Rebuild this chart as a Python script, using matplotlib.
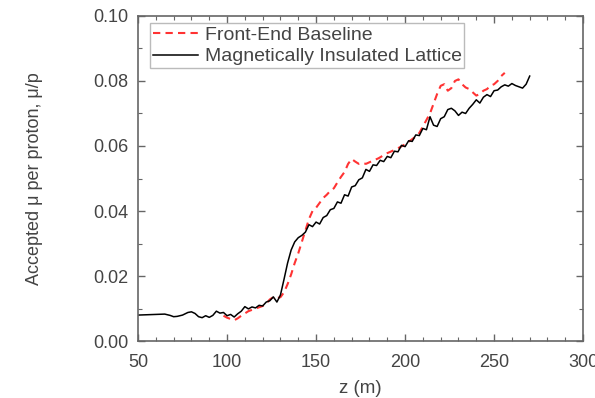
import matplotlib.pyplot as plt
from matplotlib.ticker import MultipleLocator

plt.rcParams["font.family"] = ["Liberation Sans", "DejaVu Sans"]

# magnetically insulated lattice (solid black)
mil_z = [50, 55, 60, 65, 68, 70, 72, 75, 78, 80, 82, 84, 86, 88, 90, 92, 94, 96, 98,
         100, 102, 104, 106, 108, 110, 112, 114, 116, 118, 120, 122, 124, 126, 128,
         130, 132, 134, 136, 138, 140, 142, 144, 146, 148, 150, 152, 154, 156, 158,
         160, 162, 164, 166, 168, 170, 172, 174, 176, 178, 180, 182, 184, 186, 188,
         190, 192, 194, 196, 198, 200, 202, 204, 206, 208, 210, 212, 214, 216, 218,
         220, 222, 224, 226, 228, 230, 232, 234, 236, 238, 240, 242, 244, 246, 248,
         250, 252, 254, 256, 258, 260, 262, 264, 266, 268, 270]
mil_mu = [0.0080, 0.0081, 0.0082, 0.0083, 0.0079, 0.0075, 0.0076, 0.0080, 0.0088, 0.0090,
          0.0085, 0.0075, 0.0072, 0.0078, 0.0073, 0.0079, 0.0092, 0.0086, 0.0088,
          0.0078, 0.0082, 0.0074, 0.0084, 0.0092, 0.0106, 0.0099, 0.0105, 0.0102, 0.0110,
          0.0108, 0.0120, 0.0124, 0.0136, 0.0120, 0.0142, 0.0190, 0.0240, 0.0280, 0.0305,
          0.0318, 0.0325, 0.0335, 0.0358, 0.0352, 0.0366, 0.0360, 0.0380, 0.0386, 0.0404,
          0.0408, 0.0428, 0.0424, 0.0450, 0.0446, 0.0474, 0.0478, 0.0496, 0.0502, 0.0528,
          0.0522, 0.0542, 0.0540, 0.0556, 0.0552, 0.0568, 0.0564, 0.0584, 0.0582, 0.0602,
          0.0598, 0.0616, 0.0614, 0.0634, 0.0632, 0.0654, 0.0650, 0.0690, 0.0664, 0.0660,
          0.0684, 0.0690, 0.0712, 0.0716, 0.0708, 0.0694, 0.0704, 0.0700, 0.0716, 0.0728,
          0.0742, 0.0732, 0.0750, 0.0758, 0.0752, 0.0770, 0.0772, 0.0782, 0.0788, 0.0784,
          0.0792, 0.0786, 0.0782, 0.0778, 0.0790, 0.0815]

# front-end baseline (red dashed)
base_z = [98, 100, 102, 104, 106, 108, 110, 112, 114, 116, 118, 120, 122, 124, 126, 128,
          130, 132, 134, 136, 138, 140, 142, 144, 146, 148, 150, 152, 154, 156, 158, 160,
          162, 164, 166, 168, 170, 172, 174, 176, 178, 180, 185, 190, 195, 200, 205, 208,
          210, 212, 214, 216, 218, 220, 222, 224, 226, 228, 230, 232, 234, 236, 238, 240,
          242, 244, 246, 248, 250, 252, 254, 256]
base_mu = [0.0078, 0.0072, 0.0068, 0.0064, 0.0070, 0.0078, 0.0085, 0.0092, 0.0096, 0.0100,
           0.0104, 0.0108, 0.0115, 0.0128, 0.0135, 0.0132, 0.0135, 0.0150, 0.0175, 0.0205,
           0.0240, 0.0270, 0.0305, 0.0340, 0.0375, 0.0400, 0.0410, 0.0425, 0.0440, 0.0450,
           0.0462, 0.0470, 0.0488, 0.0505, 0.0520, 0.0545, 0.0560, 0.0552, 0.0545, 0.0548,
           0.0545, 0.0550, 0.0562, 0.0578, 0.0590, 0.0605, 0.0625, 0.0640, 0.0660, 0.0680,
           0.0700, 0.0730, 0.0760, 0.0785, 0.0790, 0.0770, 0.0778, 0.0800, 0.0805, 0.0790,
           0.0780, 0.0775, 0.0765, 0.0755, 0.0760, 0.0770, 0.0775, 0.0785, 0.0790, 0.0800,
           0.0815, 0.0825]

text_col = "#444444"
spine_col = "#666666"

fig = plt.figure(figsize=(5.95, 3.98), dpi=100)
ax = fig.add_axes([0.232, 0.143, 0.748, 0.817])

ax.plot(base_z, base_mu, color="#ff3333", lw=1.5, ls=(0, (3.5, 2.5)),
        label="Front-End Baseline")
ax.plot(mil_z, mil_mu, color="black", lw=1.1, label="Magnetically Insulated Lattice")

ax.set_xlim(50, 300)
ax.set_ylim(0, 0.10)
ax.xaxis.set_major_locator(MultipleLocator(50))
ax.xaxis.set_minor_locator(MultipleLocator(10))
ax.yaxis.set_major_locator(MultipleLocator(0.02))
ax.yaxis.set_minor_locator(MultipleLocator(0.01))
ax.yaxis.set_major_formatter(lambda v, p: f"{v:.2f}")

ax.tick_params(which="both", direction="in", top=True, right=True,
               colors=spine_col, labelcolor=text_col, labelsize=13)
ax.tick_params(which="major", length=5, width=1)
ax.tick_params(which="minor", length=3, width=0.8)
ax.tick_params(axis="x", pad=9)
ax.tick_params(axis="y", pad=7)
for s in ax.spines.values():
    s.set_color(spine_col)
    s.set_linewidth(1.2)

ax.set_xlabel("z (m)", fontsize=13.5, color=text_col, labelpad=7)
ax.set_ylabel("Accepted \u03bc per proton, \u03bc/p", fontsize=13, color=text_col,
              labelpad=36)

leg = ax.legend(loc="upper left", bbox_to_anchor=(0.027, 0.977), fontsize=14,
                fancybox=False, edgecolor="#aaaaaa", handlelength=2.3,
                borderpad=0.15, labelspacing=0.2, handletextpad=0.35, borderaxespad=0)
for t in leg.get_texts():
    t.set_color(text_col)

plt.savefig("out.png", dpi=100)
